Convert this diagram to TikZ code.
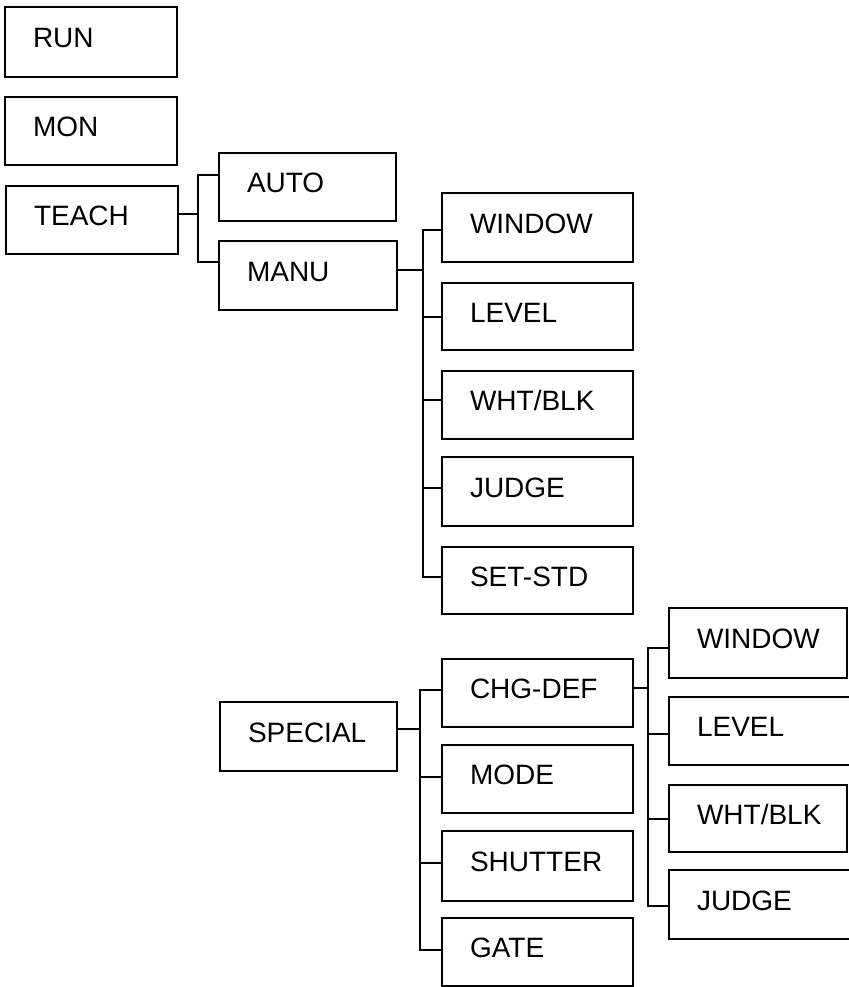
\documentclass[tikz,border=0pt]{standalone}
\usepackage{fontspec}
\setmainfont{Liberation Sans}
\tikzset{
  box/.style={draw=black, line width=2pt, rectangle, inner xsep=28pt, inner ysep=0pt,
    text height=20.5pt, text depth=9pt, font=\fontsize{28}{32}\selectfont},
  conn/.style={draw=black, line width=2pt}
}
\newcommand\bx[6]{\node[box, minimum width={(#4-#2)*1pt}, minimum height={(#5-#3)*1pt}]
  (#1) at ({(#2+#4)/2},{(#3+#5)/2}) {\makebox[\dimexpr #4pt-#2pt-56pt\relax][l]{#6}};}
\begin{document}
\begin{tikzpicture}[x=1pt,y=-1pt]
\useasboundingbox (0,0) rectangle (848,987);
\fill[white] (0,0) rectangle (848,987);
\bx{run}{5}{7}{177}{77}{RUN}
\bx{mon}{5}{97}{177}{165}{MON}
\bx{teach}{6}{186}{178}{254}{TEACH}
\bx{auto}{219}{153}{396}{221}{AUTO}
\bx{manu}{219}{241}{397}{310}{MANU}
\bx{win}{442}{193}{633}{262}{WINDOW}
\bx{lev}{442}{283}{633}{350}{LEVEL}
\bx{wb}{442}{371}{633}{439}{WHT/BLK}
\bx{jud}{442}{457}{633}{526}{JUDGE}
\bx{sstd}{442}{547}{633}{614}{SET-STD}
\bx{spec}{220}{702}{397}{771}{SPECIAL}
\bx{chg}{442}{659}{633}{727}{CHG-DEF}
\bx{mode}{442}{745}{633}{813}{MODE}
\bx{shut}{442}{831}{633}{901}{SHUTTER}
\bx{gate}{442}{918}{633}{986}{GATE}
\bx{wintwo}{669}{608}{847}{678}{WINDOW}
\bx{levtwo}{669}{697}{852}{765}{LEVEL}
\bx{wbtwo}{669}{785}{847}{852}{WHT/BLK}
\bx{judtwo}{669}{870}{852}{939}{JUDGE}
% TEACH
\draw[conn] ([yshift=6pt]teach.east) -- ++(19,0) coordinate (tb);
\draw[conn] (tb) |- ([yshift=12pt]auto.west);
\draw[conn] (tb) |- ([yshift=13.5pt]manu.west);
% MANU
\draw[conn] ([yshift=6pt]manu.east) -- ++(25,0) coordinate (mb);
\draw[conn] (mb) |- ([yshift=-2.5pt]win.west);
\draw[conn] (mb) |- (lev.west);
\draw[conn] (mb) |- ([yshift=5pt]wb.west);
\draw[conn] (mb) |- ([yshift=3.5pt]jud.west);
\draw[conn] (mb) |- ([yshift=3.5pt]sstd.west);
% SPECIAL
\draw[conn] ([yshift=7.5pt]spec.east) -- ++(22,0) coordinate (sb);
\draw[conn] (sb) |- ([yshift=3pt]chg.west);
\draw[conn] (sb) |- ([yshift=2pt]mode.west);
\draw[conn] (sb) |- ([yshift=3pt]shut.west);
\draw[conn] (sb) |- ([yshift=2pt]gate.west);
% CHG-DEF
\draw[conn] ([yshift=5.5pt]chg.east) -- ++(14,0) coordinate (cb);
\draw[conn] (cb) |- ([yshift=-5pt]wintwo.west);
\draw[conn] (cb) |- ([yshift=-3pt]levtwo.west);
\draw[conn] (cb) |- (wbtwo.west);
\draw[conn] (cb) |- ([yshift=-1.5pt]judtwo.west);
\end{tikzpicture}
\end{document}
